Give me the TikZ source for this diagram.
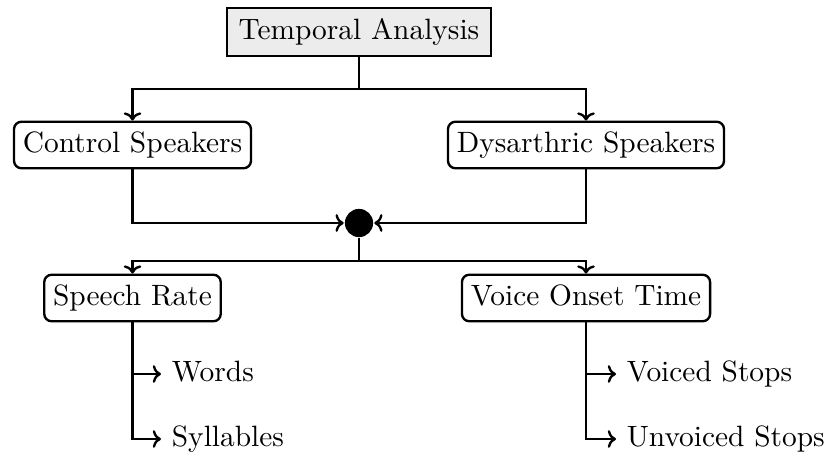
\documentclass[tikz,border=0pt]{standalone}
\usetikzlibrary{arrows.meta}
\begin{document}
\begin{tikzpicture}[
  x=0.34pt, y=-0.34pt,
  line width=0.8pt,
  rootbox/.style={draw, fill=gray!15, inner xsep=4pt, inner ysep=3.7pt, text height=7pt, text depth=2pt},
  groupbox/.style={draw, rounded corners=2.5pt, inner xsep=3pt, inner ysep=3.4pt, text height=7pt, text depth=2pt},
  hubdot/.style={circle, fill=black, minimum size=9.6pt, inner sep=0pt},
  leaf/.style={anchor=west, inner sep=3.3pt, text height=7pt, text depth=2pt},
  link/.style={-{Computer Modern Rightarrow[length=2.8pt, width=6pt]}}
]
\useasboundingbox (0,0) rectangle (824,463);

% boxes
\node[rootbox]  (ta)  at (359,32)  {Temporal Analysis};
\node[groupbox] (cs)  at (132.5,145) {Control Speakers};
\node[groupbox] (ds)  at (586,145) {Dysarthric Speakers};
\node[hubdot]   (hub) at (359,223) {};
\node[groupbox] (sr)  at (132.5,298) {Speech Rate};
\node[groupbox] (vot) at (586,298) {Voice Onset Time};

% leaves
\node[leaf] (wd) at (161,374) {Words};
\node[leaf] (sy) at (161,439) {Syllables};
\node[leaf] (vs) at (616,374) {Voiced Stops};
\node[leaf] (us) at (616,439) {Unvoiced Stops};

% split points
\coordinate (split1) at (359,89);
\coordinate (split2) at (359,261);

% top fork
\draw (ta.south) -- (split1);
\draw[link] (split1) -| (cs.north);
\draw[link] (split1) -| (ds.north);

% merge into hub
\draw[link] (cs.south) |- (hub.west);
\draw[link] (ds.south) |- (hub.east);

% lower fork
\draw (hub.south) -- (split2);
\draw[link] (split2) -| (sr.north);
\draw[link] (split2) -| (vot.north);

% leaf branches
\draw[link] (sr.south) |- (wd.west);
\draw[link] (sr.south) |- (sy.west);
\draw[link] (vot.south) |- (vs.west);
\draw[link] (vot.south) |- (us.west);
\end{tikzpicture}
\end{document}
